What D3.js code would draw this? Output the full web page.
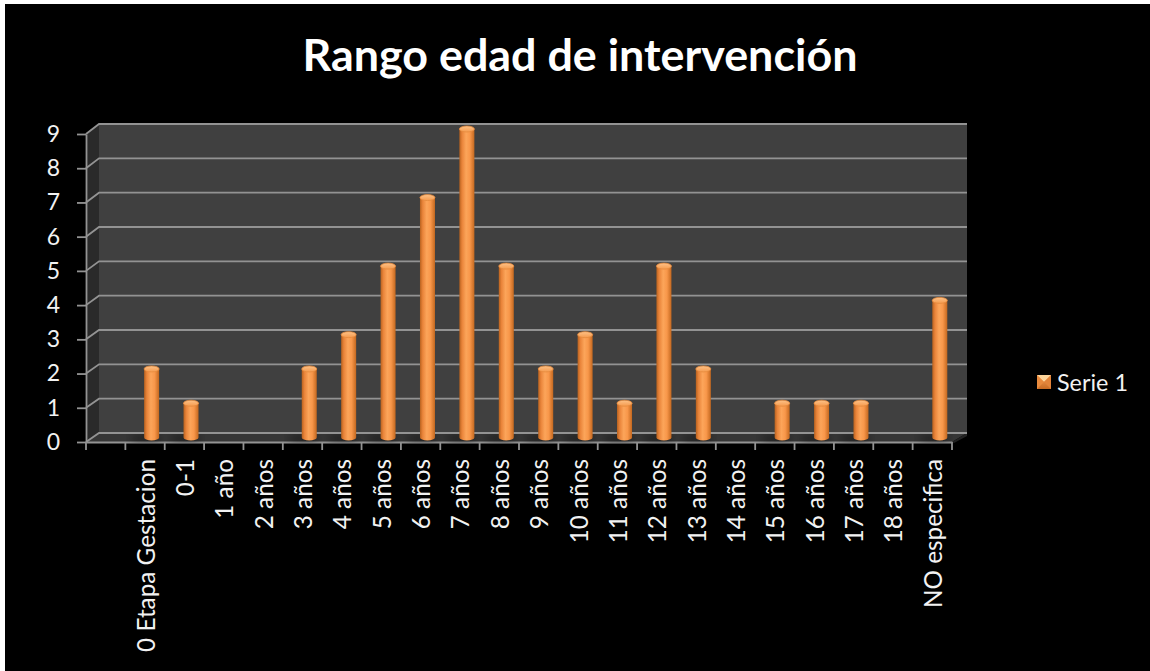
<!DOCTYPE html>
<html>
<head>
<meta charset="utf-8">
<script src="https://cdnjs.cloudflare.com/ajax/libs/d3/7.8.5/d3.min.js"></script>
<style>
body{margin:0;background:#fff;overflow:hidden;}
#chart{width:1150px;height:671px;}
text{font-family:Lato,"Open Sans",sans-serif;}
</style>
</head>
<body>
<div id="chart"></div>
<script>

var chartTitle="Rango edad de intervención"
var seriesName="Serie 1"
// first slot is empty in the original chart
var categories=["","0 Etapa Gestacion","0-1","1 año","2 años","3 años","4 años","5 años","6 años","7 años","8 años",
	"9 años","10 años","11 años","12 años","13 años","14 años","15 años","16 años","17 años","18 años","NO especifica"]
var values=[0,2,1,0,0,2,3,5,7,9,5,2,3,1,5,2,0,1,1,1,0,4]
var yTicks=[0,1,2,3,4,5,6,7,8,9]

class Chart3D{

	constructor(){
		this.g={}
	}

	draw(){
		var svg=d3.select("#chart").append("svg")
			.attr("width",1150)
			.attr("height",671)
		this.svg=svg

		svg.append("rect")
			.attr("x",5).attr("y",4)
			.attr("width",1145).attr("height",667)
			.attr("fill","#000")

		this.setScales()
		this.drawDefs()
		this.drawWalls()
		this.drawAxis()
		this.drawBars()
		this.drawTitle()
		this.drawLegend()
	}

	setScales(){
		// front plane
		this.x=d3.scaleBand().domain(categories).range([86,952])
		this.y=d3.scaleLinear().domain([0,9]).range([442,134])
		// back wall
		this.xb=d3.scaleLinear().domain([86,952]).range([99,967])
		this.yb=d3.scaleLinear().domain([0,9]).range([433,124])
	}

	drawDefs(){
		var defs=this.svg.append("defs")
		var gr=defs.append("linearGradient").attr("id","cyl")
		var stops=[[0,"#b8621f"],[0.18,"#e9843a"],[0.45,"#fca55a"],[0.7,"#f8974a"],[1,"#c4681f"]]
		stops.forEach(function(s){
			gr.append("stop").attr("offset",s[0]).attr("stop-color",s[1])
		})
		var cap=defs.append("linearGradient").attr("id","cap")
			.attr("x1",0).attr("y1",0).attr("x2",0).attr("y2",1)
		cap.append("stop").attr("offset",0).attr("stop-color","#fdc288")
		cap.append("stop").attr("offset",1).attr("stop-color","#f59a4d")

		defs.append("filter").attr("id","blur")
			.append("feGaussianBlur").attr("stdDeviation",4)

		var lg=defs.append("linearGradient").attr("id","legmark")
			.attr("x1",0).attr("y1",0).attr("x2",0).attr("y2",1)
		lg.append("stop").attr("offset",0).attr("stop-color","#f7a058")
		lg.append("stop").attr("offset",1).attr("stop-color","#c96b22")
	}

	drawWalls(){
		var x=this.x,y=this.y,xb=this.xb,yb=this.yb
		var left=x.range()[0],right=x.range()[1]
		var g=this.svg.append("g")

		// side wall
		g.append("path")
			.attr("d","M"+left+","+y(0)+"L"+left+","+y(9)+"L"+xb(left)+","+yb(9)+"L"+xb(left)+","+yb(0)+"Z")
			.attr("fill","#2a2a2a")
		// back wall
		g.append("rect")
			.attr("x",xb(left)).attr("y",yb(9))
			.attr("width",xb(right)-xb(left)).attr("height",yb(0)-yb(9))
			.attr("fill","#404040")
		// floor
		g.append("path")
			.attr("d","M"+left+","+y(0)+"L"+right+","+y(0)+"L"+xb(right)+","+yb(0)+"L"+xb(left)+","+yb(0)+"Z")
			.attr("fill","#363636")
		g.append("path")
			.attr("d","M"+right+","+y(0)+"L"+xb(right)+","+yb(0)+"L"+xb(right)+","+(yb(0)+3)+"L"+(right+2)+","+(y(0)+1)+"Z")
			.attr("fill","#222")

		// grid lines on back and side wall
		g.selectAll(".grid")
			.data(yTicks)
			.enter()
			.append("path")
			.attr("class","grid")
			.attr("d",d=>"M"+left+","+y(d)+"L"+xb(left)+","+yb(d)+"L"+xb(right)+","+yb(d))
			.attr("fill","none")
			.attr("stroke","#939393")
			.attr("stroke-width",1.8)
	}

	drawAxis(){
		var x=this.x,y=this.y
		var left=x.range()[0],right=x.range()[1]

		var gy=this.svg.append("g")
			.attr("transform","translate("+left+",0)")
			.call(d3.axisLeft(y).tickValues(yTicks).tickSize(9).tickSizeOuter(0).tickPadding(17))
		gy.select(".domain").attr("stroke","#939393").attr("stroke-width",1.8)
		gy.selectAll(".tick line").attr("stroke","#939393").attr("stroke-width",1.8)
		gy.selectAll(".tick text").attr("fill","#f2f2f2").attr("font-size",23)

		var gx=this.svg.append("g")
			.attr("transform","translate(0,"+y(0)+")")
			.call(d3.axisBottom(x).tickSize(0).tickSizeOuter(0))
		gx.select(".domain").attr("stroke","#939393").attr("stroke-width",1.8)
		gx.selectAll(".tick text")
			.attr("fill","#f2f2f2")
			.attr("font-size",22)
			.attr("text-anchor","end")
			.attr("dominant-baseline","central")
			.attr("dy",null)
			.attr("y",0)
			.attr("transform","translate(0,17) rotate(-90)")

		// category boundaries get the tick marks
		var bounds=categories.map(d=>x(d)).concat([right])
		this.svg.append("g").selectAll("line")
			.data(bounds)
			.enter()
			.append("line")
			.attr("x1",d=>d).attr("x2",d=>d)
			.attr("y1",y(0)).attr("y2",y(0)+8)
			.attr("stroke","#939393")
			.attr("stroke-width",1.8)

		// font fitting against the longest label
		var probe=gx.selectAll(".tick text").filter(d=>d=="0 Etapa Gestacion")
		var fs=22*193/probe.node().getComputedTextLength()
		gx.selectAll(".tick text").attr("font-size",fs)
	}

	drawBars(){
		var x=this.x,y=this.y,xb=this.xb,yb=this.yb
		var w=15,ry=3
		var cx=function(d,i){
			var c=x(categories[i])+x.bandwidth()/2
			return (c+xb(c))/2
		}
		var ym=v=>(y(v)+yb(v))/2

		var data=values.map(function(v,i){return {v:v,i:i}}).filter(d=>d.v>0)

		// shadows on the floor
		this.svg.append("g").selectAll("ellipse")
			.data(data)
			.enter()
			.append("ellipse")
			.attr("cx",d=>cx(d,d.i)-6)
			.attr("cy",ym(0)+1)
			.attr("rx",16)
			.attr("ry",3)
			.attr("fill","#000")
			.attr("opacity",0.55)
			.attr("filter","url(#blur)")

		var bars=this.svg.append("g").selectAll(".bar")
			.data(data)
			.enter()
			.append("g")
			.attr("class","bar")

		bars.append("path")
			.attr("d",function(d){
				var c=cx(d,d.i),t=ym(d.v),b=ym(0)
				return "M"+(c-w/2)+","+t+"L"+(c-w/2)+","+b
					+"A"+(w/2)+","+ry+" 0 0 0 "+(c+w/2)+","+b
					+"L"+(c+w/2)+","+t+"Z"
			})
			.attr("fill","url(#cyl)")

		bars.append("ellipse")
			.attr("cx",d=>cx(d,d.i))
			.attr("cy",d=>ym(d.v))
			.attr("rx",w/2)
			.attr("ry",ry)
			.attr("fill","url(#cap)")
			.attr("stroke","#e58a3e")
			.attr("stroke-width",0.8)
	}

	drawTitle(){
		var t=this.svg.append("text")
			.text(chartTitle)
			.attr("x",580)
			.attr("y",71)
			.attr("text-anchor","middle")
			.attr("font-weight","bold")
			.attr("font-size",40)
			.attr("fill","#fff")
		t.attr("font-size",40*555/t.node().getComputedTextLength())
	}

	drawLegend(){
		var g=this.svg.append("g").attr("transform","translate(1037,375)")
		g.append("rect")
			.attr("width",14).attr("height",14)
			.attr("fill","url(#legmark)")
		g.append("path")
			.attr("d","M0,0L14,0L7,7Z")
			.attr("fill","#fcd49a")
		g.append("path")
			.attr("d","M0,0L7,7L0,14Z")
			.attr("fill","#e98a3d")
		g.append("path")
			.attr("d","M14,0L7,7L14,14Z")
			.attr("fill","#e3843a")
		var t=g.append("text")
			.text(seriesName)
			.attr("x",20)
			.attr("y",7)
			.attr("dominant-baseline","central")
			.attr("font-size",20)
			.attr("fill","#f2f2f2")
		t.attr("font-size",20*71/t.node().getComputedTextLength())
	}
}

var chart=new Chart3D()
chart.draw()

</script>
</body>
</html>
